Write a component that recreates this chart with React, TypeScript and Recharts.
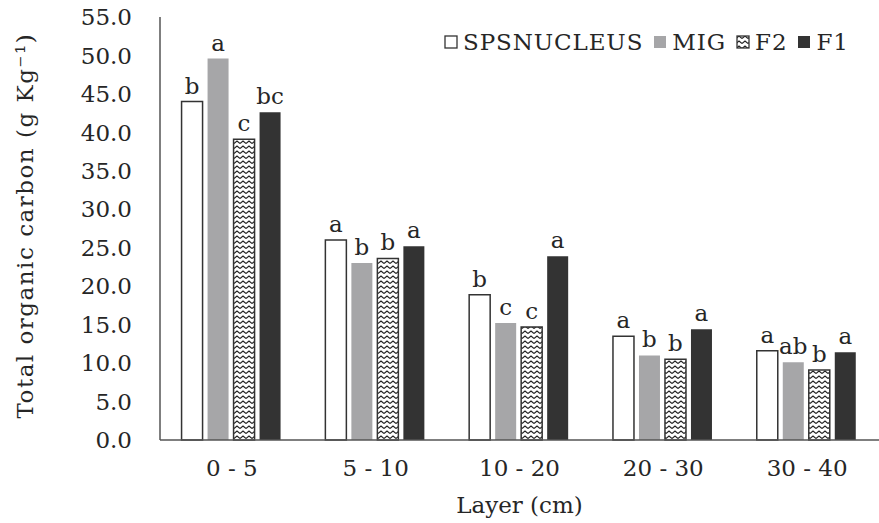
import React from "react";
import { BarChart, Bar, XAxis, YAxis, LabelList } from "recharts";

const layers = ["0 - 5", "5 - 10", "10 - 20", "20 - 30", "30 - 40"];
const spsnucleus = [44.0, 26.0, 18.9, 13.5, 11.6];
const mig = [49.6, 23.0, 15.2, 11.0, 10.1];
const f2 = [39.1, 23.6, 14.7, 10.5, 9.1];
const f1 = [42.6, 25.2, 23.9, 14.4, 11.4];

const spsLetters = ["b", "a", "b", "a", "a"];
const migLetters = ["a", "b", "c", "b", "ab"];
const f2Letters = ["c", "b", "c", "b", "b"];
const f1Letters = ["bc", "a", "a", "a", "a"];

const yTicks = [0, 5, 10, 15, 20, 25, 30, 35, 40, 45, 50, 55];

const FONT = "'DejaVu Serif', serif";
const INK = "#262626";

const data = layers.map((layer, i) => ({
  layer,
  sps: spsnucleus[i],
  mig: mig[i],
  f2: f2[i],
  f1: f1[i],
  spsL: spsLetters[i],
  migL: migLetters[i],
  f2L: f2Letters[i],
  f1L: f1Letters[i],
}));

const series = [
  { key: "sps", label: "spsL", name: "SPSNUCLEUS", fill: "#ffffff", stroke: "#333" },
  { key: "mig", label: "migL", name: "MIG", fill: "#a6a6a8", stroke: "none" },
  { key: "f2", label: "f2L", name: "F2", fill: "url(#zigzag)", stroke: "#333" },
  { key: "f1", label: "f1L", name: "F1", fill: "#333333", stroke: "none" },
];

const LegendBox = () => (
  <div
    style={{
      position: "absolute",
      left: 444,
      top: 29,
      display: "flex",
      alignItems: "center",
      fontFamily: FONT,
      fontSize: 23,
      letterSpacing: 0.9,
      color: INK,
      whiteSpace: "nowrap",
    }}
  >
    {series.map((s, i) => (
      <span key={s.key} style={{ display: "flex", alignItems: "center", marginLeft: i === 0 ? 0 : 10 }}>
        <svg width={15} height={15} style={{ marginRight: 4 }}>
          <rect
            x={1}
            y={1}
            width={12}
            height={12}
            fill={s.fill}
            stroke={s.stroke === "none" ? "none" : "#333"}
            strokeWidth={1.3}
          />
        </svg>
        {s.name}
      </span>
    ))}
  </div>
);

export default function App() {
  return (
    <div style={{ position: "absolute", left: 0, top: 0, width: 879, height: 523, background: "#fff" }}>
      <svg width={0} height={0} style={{ position: "absolute" }}>
        <defs>
          <pattern id="zigzag" patternUnits="userSpaceOnUse" width={6} height={5}>
            <rect width={6} height={5} fill="#ffffff" />
            <path d="M0 3.5 L3 1 L6 3.5" fill="none" stroke="#222" strokeWidth={1.1} />
          </pattern>
        </defs>
      </svg>
      <BarChart
        width={879}
        height={523}
        data={data}
        margin={{ top: 17, right: 0, bottom: 40, left: 50 }}
        barCategoryGap="15%"
        barGap={5}
      >
        <XAxis
          dataKey="layer"
          axisLine={{ stroke: "#555", strokeWidth: 1.5 }}
          tickLine={false}
          tick={{ fontFamily: FONT, fontSize: 23, fill: INK }}
          tickMargin={14}
          height={43}
          label={{
            value: "Layer (cm)",
            position: "insideBottom",
            offset: -30,
            style: { fontFamily: FONT, fontSize: 23, fill: INK },
          }}
        />
        <YAxis
          domain={[0, 55]}
          ticks={yTicks}
          interval={0}
          width={110}
          axisLine={{ stroke: "#555", strokeWidth: 1.5 }}
          tickLine={false}
          tickMargin={22}
          tickFormatter={(v: number) => v.toFixed(1)}
          tick={{ fontFamily: FONT, fontSize: 23, fill: INK }}
          label={{
            value: "Total organic carbon (g Kg⁻¹)",
            angle: -90,
            position: "insideLeft",
            offset: -25,
            dy: 190,
            style: { fontFamily: FONT, fontSize: 23, letterSpacing: 1.5, fill: INK },
          }}
        />
        {series.map((s) => (
          <Bar
            key={s.key}
            dataKey={s.key}
            name={s.name}
            fill={s.fill}
            stroke={s.stroke}
            strokeWidth={1.5}
            isAnimationActive={false}
          >
            <LabelList
              dataKey={s.label}
              position="top"
              offset={8}
              style={{ fontFamily: FONT, fontSize: 23, fill: INK }}
            />
          </Bar>
        ))}
      </BarChart>
      <LegendBox />
    </div>
  );
}
